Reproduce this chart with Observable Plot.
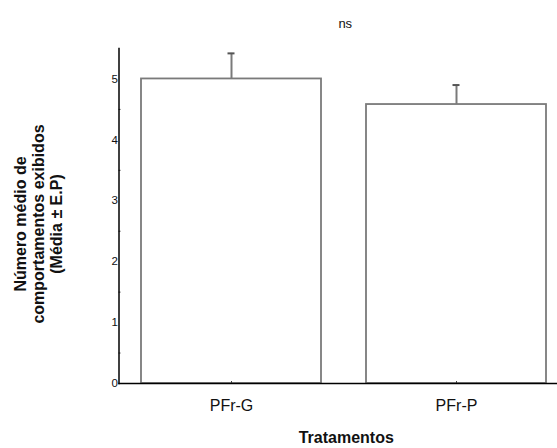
<!DOCTYPE html>
<html>
<head>
<meta charset="utf-8">
<script src="https://cdn.jsdelivr.net/npm/d3@7"></script>
<script src="https://cdn.jsdelivr.net/npm/@observablehq/plot@0.6"></script>
<style>
  html, body { margin: 0; padding: 0; background: #fff; }
  svg { display: block; font-family: "Liberation Sans", Arial, sans-serif; }
</style>
</head>
<body>
<div id="chart"></div>
<script>
const categories = ["PFr-G", "PFr-P"];
const means = [5.0, 4.58];
const upperErrors = [5.42, 4.90];
const yTicks = [0, 1, 2, 3, 4, 5];
const yMinorTicks = [0.5, 1.5, 2.5, 3.5, 4.5];
const title = "ns";
const xTitle = "Tratamentos";
const yTitle = "Número médio de\ncomportamentos exibidos\n(Média ± E.P)";

const data = categories.map((c, i) => ({cat: c, mean: means[i], hi: upperErrors[i]}));

const chart = Plot.plot({
  width: 557,
  height: 448,
  marginLeft: 118.5,
  marginRight: 0,
  marginTop: 48,
  marginBottom: 65,
  style: {fontFamily: "Liberation Sans, Arial, sans-serif", background: "#fff"},
  x: {domain: categories, range: [118.5, 568.5], paddingInner: 0.2, paddingOuter: 0.1},
  y: {domain: [0, 5.5]},
  marks: [
    Plot.ruleX(data, {x: "cat", y1: "mean", y2: "hi", stroke: "#7a7a7a", strokeWidth: 2}),
    Plot.tickY(data, {x: "cat", y: "hi", stroke: "#555", strokeWidth: 2, inset: 86.5}),
    Plot.barY(data, {x: "cat", y: "mean", fill: "white", stroke: "#7a7a7a", strokeWidth: 1.8}),
    Plot.axisY({ticks: yTicks, tickFormat: d => String(d), tickSize: 0, tickPadding: 1, fontSize: 11.5, fill: "#111", label: null}),
    Plot.axisY({ticks: yMinorTicks, tickSize: -2, text: null, stroke: "#444", label: null}),
    Plot.axisX({tickSize: -2, tickPadding: 18, fontSize: 16, fill: "#111", stroke: "#444", label: null}),
    Plot.frame({anchor: "left", stroke: "#000", strokeWidth: 1.5}),
    Plot.frame({anchor: "bottom", stroke: "#000", strokeWidth: 1.5}),
    Plot.text([title], {frameAnchor: "top", dx: 7, dy: -30, fontSize: 13, fill: "#111"}),
    Plot.text([xTitle], {frameAnchor: "bottom", dx: 8, dy: 59, fontSize: 16, fontWeight: "bold", fill: "#111"}),
    Plot.text([yTitle], {frameAnchor: "left", textAnchor: "middle", dx: -81, dy: 8, rotate: -90, fontSize: 16, fontWeight: "bold", lineHeight: 1.12, fill: "#111"})
  ]
});
document.getElementById("chart").appendChild(chart);
</script>
</body>
</html>
